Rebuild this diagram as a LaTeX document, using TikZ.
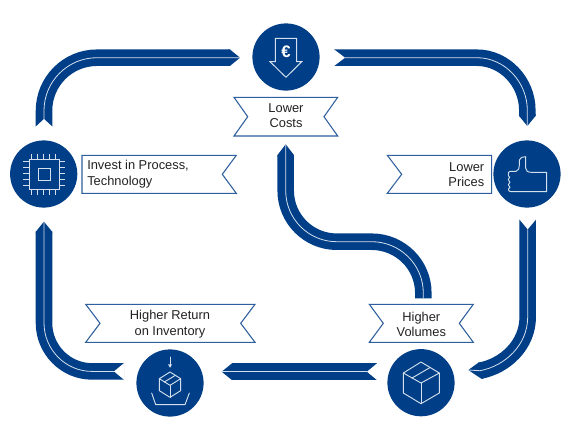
\documentclass[tikz,border=0pt]{standalone}
\usepackage{fontspec}
\setmainfont{Liberation Sans}
\definecolor{navy}{HTML}{003F87}
\definecolor{edgeblue}{HTML}{2F5F9E}
\definecolor{hair}{HTML}{D5E0EE}
\definecolor{inktext}{HTML}{222222}
\tikzset{
  hub/.style={circle,fill=navy,draw=none,minimum size=50.4pt,inner sep=0pt},
  ribbon/.style={draw=navy,line width=12.4pt},
  ribbontip/.style={fill=navy,draw=none},
  ribbonnotch/.style={fill=white,draw=none},
  hairline/.style={draw=hair,line width=0.6pt},
  bannerline/.style={draw=edgeblue,line width=0.8pt,fill=white,line join=miter},
  label/.style={inner sep=0pt,text=inktext,font=\fontsize{9.65}{11.8}\selectfont},
  icon/.style={draw=hair,line width=0.7pt,line join=round,line cap=round},
}
\begin{document}
\begin{tikzpicture}[x=0.75pt,y=-0.75pt]
\useasboundingbox (0,0) rectangle (570,440);
\fill[white] (0,0) rectangle (570,440);

% hubs
\node[hub] (costs) at (286,57) {};
\node[hub] (invest) at (43.7,174) {};
\node[hub] (prices) at (527,174) {};
\node[hub] (volumes) at (421,382.7) {};
\node[hub] (inventory) at (170,383) {};

% ribbon ends
\coordinate (a1s) at (240,57.7);   \coordinate (a1b) at (230,57.7);  \coordinate (a1e) at (44,126.7);
\coordinate (a2s) at (334,57.7);   \coordinate (a2b) at (527.3,116); \coordinate (a2e) at (527.3,126);
\coordinate (a3s) at (527.7,219.3);\coordinate (a3b) at (480,370.7); \coordinate (a3e) at (468.3,370);
\coordinate (a4s) at (377,371.7);  \coordinate (a4b) at (231.7,371.7);\coordinate (a4e) at (221.7,371.7);
\coordinate (a5s) at (124,371.4);  \coordinate (a5b) at (44,231.7);  \coordinate (a5e) at (43.9,221.7);
\coordinate (a6s) at (423.3,298.3);\coordinate (a6b) at (285.7,155); \coordinate (a6e) at (285.7,144.3);

% costs -> invest (drawn with its head towards costs)
\draw[ribbon] (a1b) -- (97,57.7) .. controls (67.7,57.7) and (44,81.4) .. (44,110.7) -- (a1e);
\fill[ribbontip] (228,49.5) -- (230,49.5) -- (a1s) -- (230,65.9) -- (228,65.9) -- cycle;
\fill[ribbonnotch] (35,127.6) -- (35.7,126.7) -- (44,119) -- (52.4,126.7) -- (53,127.6) -- cycle;
\draw[hairline] (a1s) -- (97,57.7) .. controls (67.7,57.7) and (44,81.4) .. (44,110.7) -- (44,119);

% costs -> prices
\draw[ribbon] (a2s) -- (477,57.7) .. controls (504.8,57.7) and (527.3,82.3) .. (527.3,110) -- (a2b);
\fill[ribbontip] (519.1,114) -- (519.1,116) -- (a2e) -- (535.5,116) -- (535.5,114) -- cycle;
\fill[ribbonnotch] (333.4,49) -- (334,49.4) -- (345,57.7) -- (334,66) -- (333.4,66.4) -- cycle;
\draw[hairline] (345,57.7) -- (477,57.7) .. controls (504.8,57.7) and (527.3,82.3) .. (527.3,110) -- (a2e);

% prices -> volumes
\draw[ribbon] (a3s) -- (527.7,317) .. controls (527.7,345) and (505,366) .. (a3b);
\fill[ribbontip] (480.5,362.3) -- (478.5,362.6) -- (a3e) -- (481.5,378.8) -- (483.5,378.4) -- cycle;
\fill[ribbonnotch] (519,218.7) -- (519.3,219.3) -- (527.7,229.3) -- (536.1,219.3) -- (536.4,218.7) -- cycle;
\draw[hairline] (527.7,229.3) -- (527.7,317) .. controls (527.7,345) and (505,366) .. (a3b) -- (a3e);

% volumes -> inventory
\draw[ribbon] (a4s) -- (a4b);
\fill[ribbontip] (233.7,363.5) -- (231.7,363.5) -- (a4e) -- (231.7,379.9) -- (233.7,379.9) -- cycle;
\fill[ribbonnotch] (377.6,363) -- (377,363.4) -- (367,371.7) -- (377,380) -- (377.6,380.4) -- cycle;
\draw[hairline] (367,371.7) -- (a4e);

% inventory -> invest
\draw[ribbon] (a5s) -- (92,371.4) .. controls (65.5,371.4) and (44,349.5) .. (44,323) -- (a5b);
\fill[ribbontip] (35.8,233.7) -- (35.8,231.7) -- (a5e) -- (52.2,231.7) -- (52.2,233.7) -- cycle;
\fill[ribbonnotch] (124.6,362.7) -- (124,363.1) -- (114,371.4) -- (124,379.7) -- (124.6,380.1) -- cycle;
\draw[hairline] (114,371.4) -- (92,371.4) .. controls (65.5,371.4) and (44,349.5) .. (44,323) -- (a5e);

% volumes -> costs
\draw[ribbon] (a6s) -- (423.3,293) .. controls (423.3,264.5) and (400,241.7) .. (371.7,241.7) -- (336.7,241.7) .. controls (308.5,241.7) and (285.7,218.8) .. (285.7,190.7) -- (a6b);
\fill[ribbontip] (277.5,157) -- (277.5,155) -- (a6e) -- (293.9,155) -- (293.9,157) -- cycle;
\draw[hairline] (a6s) -- (423.3,293) .. controls (423.3,264.5) and (400,241.7) .. (371.7,241.7) -- (336.7,241.7) .. controls (308.5,241.7) and (285.7,218.8) .. (285.7,190.7) -- (a6e);

% banners
\draw[bannerline] (234,97.3) -- (337.7,97.3) -- (324,116.7) -- (337.7,136) -- (234,136) -- (247.7,116.7) -- cycle;
\node[label,align=center] (tcosts) at (286,115.5) {Lower\\Costs};

\draw[bannerline] (82,155.3) -- (236.3,155.3) -- (222.3,174.3) -- (236.3,193.3) -- (82,193.3) -- cycle;
\node[label,align=left,anchor=west] (tinvest) at (87,174.5) {Invest in Process,\\Technology};

\draw[bannerline] (387.3,155.3) -- (491.7,155.3) -- (491.7,193.3) -- (387.3,193.3) -- (401.7,174.3) -- cycle;
\node[label,align=right,anchor=east] (tprices) at (484.5,174.5) {Lower\\Prices};

\draw[bannerline] (369.3,304.3) -- (473.3,304.3) -- (459.3,323.3) -- (473.3,342.3) -- (369.3,342.3) -- (383.3,323.3) -- cycle;
\node[label,align=center] (tvolumes) at (421.3,324.5) {Higher\\Volumes};

\draw[bannerline] (85.7,304.3) -- (255,304.3) -- (240.7,323.3) -- (255,342.3) -- (85.7,342.3) -- (100,323.3) -- cycle;
\node[label,align=center] (tinventory) at (170,324) {Higher Return\\on Inventory};

% euro icon
\draw[icon,line join=miter] (275.3,38.3) -- (296.7,38.3) -- (296.7,61.7) -- (301.7,61.7) -- (286,77.3) -- (270,61.7) -- (275.3,61.7) -- cycle;
\node[inner sep=0pt,text=white,font=\fontsize{12.5}{14}\selectfont\bfseries] (euro) at (286,51.7) {€};

% chip icon
\begin{scope}[shift={(10,140)},x=0.25pt,y=-0.25pt]
\draw[icon,line join=miter] (57,58) rectangle (148,148);
\draw[icon,line join=miter] (84,85) rectangle (120,122);
\foreach \p in {65,83,101,119,137} {
  \draw[icon,line cap=butt] (\p,42) -- (\p,58);
  \draw[icon,line cap=butt] (\p,148) -- (\p,164);
  \draw[icon,line cap=butt] (40,\p) -- (57,\p);
  \draw[icon,line cap=butt] (148,\p) -- (165,\p);
}
\end{scope}

% thumb icon
\begin{scope}[shift={(490,140)},x=0.25pt,y=-0.25pt]
\draw[icon] (107,50) -- (107,84) .. controls (107,92) and (112,97) .. (125,97) -- (170,97) -- (170,155) -- (64,155)
  .. controls (54,155) and (53,146) .. (60,142) .. controls (53,138) and (53,130) .. (60,127)
  .. controls (53,123) and (53,114) .. (59,112) .. controls (53,108) and (53,95) .. (60,94)
  -- (78,94) .. controls (86,92) and (88,84) .. (88,76) -- (88,60) .. controls (90,53) and (98,49) .. (107,50) -- cycle;
\end{scope}

% large box icon
\begin{scope}[shift={(386,348)},x=0.25pt,y=-0.25pt]
\draw[icon] (105,42) -- (160,75) -- (160,135) -- (105,167) -- (52,135) -- (52,75) -- cycle;
\draw[icon] (52,75) -- (105,105) -- (160,75);
\draw[icon] (105,105) -- (105,167);
\draw[icon] (78,90) -- (133,58);
\end{scope}

% small box icon with tray
\begin{scope}[shift={(135,348)},x=0.25pt,y=-0.25pt]
\draw[icon] (105,72) -- (137,92) -- (137,128) -- (105,148) -- (73,128) -- (73,92) -- cycle;
\draw[icon] (73,92) -- (105,112) -- (137,92);
\draw[icon] (105,112) -- (105,148);
\draw[icon] (88,102) -- (121,82);
\draw[icon] (105,27) -- (105,56);
\fill[hair] (99,49) -- (111,49) -- (105,59) -- cycle;
\draw[icon] (50,135) -- (62,170) -- (150,170) -- (163,135);
\end{scope}
\end{tikzpicture}
\end{document}
